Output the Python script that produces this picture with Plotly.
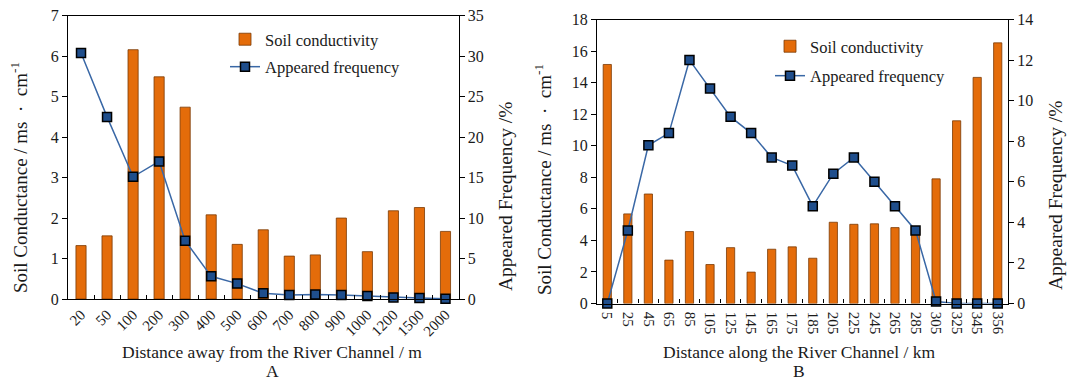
import plotly.graph_objects as go

# ---------------- data ----------------
dist_a = ["20", "50", "100", "200", "300", "400", "500", "600", "700", "800",
          "900", "1000", "1200", "1500", "2000"]
cond_a = [1.32, 1.56, 6.16, 5.49, 4.74, 2.08, 1.35, 1.71, 1.06, 1.09,
          2.00, 1.17, 2.18, 2.26, 1.67]
freq_a = [30.4, 22.5, 15.1, 17.0, 7.2, 2.8, 1.9, 0.7, 0.5, 0.55,
          0.5, 0.37, 0.2, 0.12, 0.04]

dist_b = ["5", "25", "45", "65", "85", "105", "125", "145", "165", "175",
          "185", "205", "225", "245", "265", "285", "305", "325", "345", "356"]
cond_b = [15.15, 5.68, 6.94, 2.75, 4.56, 2.47, 3.54, 1.99, 3.44, 3.59,
          2.87, 5.15, 5.02, 5.05, 4.81, 4.75, 7.90, 11.58, 14.33, 16.52]
freq_b = [0.0, 3.6, 7.8, 8.4, 12.0, 10.6, 9.2, 8.4, 7.2, 6.8,
          4.8, 6.4, 7.2, 6.0, 4.8, 3.6, 0.1, 0.0, 0.0, 0.0]

y1_ticks_a = [0, 1, 2, 3, 4, 5, 6, 7]
y2_ticks_a = [0, 5, 10, 15, 20, 25, 30, 35]
y1_ticks_b = [0, 2, 4, 6, 8, 10, 12, 14, 16, 18]
y2_ticks_b = [0, 2, 4, 6, 8, 10, 12, 14]

# ---------------- style ----------------
FONT = "Liberation Serif, Times New Roman, serif"
TXT = "#1a1a1a"
BAR = "#E46C0A"
BAR_EDGE = "#7a3a05"
LINE = "#3A68A6"
MARK = "#1F4E8C"
W, H = 1068, 380

fig = go.Figure()

fig.add_trace(go.Bar(x=dist_a, y=cond_a, name="Soil conductivity", width=0.39,
                     marker=dict(color=BAR, line=dict(color=BAR_EDGE, width=0.8)),
                     xaxis="x", yaxis="y", legend="legend", legendgroup="a1"))
fig.add_trace(go.Scatter(x=dist_a, y=freq_a, name="Appeared frequency", mode="lines+markers",
                         line=dict(color=LINE, width=1.5),
                         marker=dict(symbol="square", size=9, color=MARK,
                                     line=dict(color="black", width=1.5)),
                         cliponaxis=False,
                         xaxis="x", yaxis="y2", legend="legend", legendgroup="a2"))
fig.add_trace(go.Bar(x=dist_b, y=cond_b, name="Soil conductivity", width=0.40,
                     marker=dict(color=BAR, line=dict(color=BAR_EDGE, width=0.8)),
                     xaxis="x2", yaxis="y3", legend="legend2", legendgroup="b1"))
fig.add_trace(go.Scatter(x=dist_b, y=freq_b, name="Appeared frequency", mode="lines+markers",
                         line=dict(color=LINE, width=1.5),
                         marker=dict(symbol="square", size=9, color=MARK,
                                     line=dict(color="black", width=1.5)),
                         cliponaxis=False,
                         xaxis="x2", yaxis="y4", legend="legend2", legendgroup="b2"))

tickfont = dict(family=FONT, size=16, color=TXT)
xtickfont = dict(family=FONT, size=15, color=TXT)
axline = dict(showline=True, linecolor="black", linewidth=1.3, showgrid=False,
              zeroline=False, automargin=False)

dom_a = [68 / W, 458.5 / W]
dom_b = [597 / W, 1008 / W]
ydom_a = [(H - 299) / H, (H - 15.7) / H]
ydom_b = [(H - 303.5) / H, (H - 19.5) / H]

fig.update_layout(
    width=W, height=H,
    margin=dict(l=0, r=0, t=0, b=0),
    paper_bgcolor="white", plot_bgcolor="white",
    font=dict(family=FONT, color=TXT),
    xaxis=dict(domain=dom_a, anchor="y", type="category", mirror=True,
               range=[-0.5, len(dist_a) - 0.5], autorange=False,
               ticks="inside", tickson="boundaries", ticklen=4, tickcolor="black",
               tickangle=-45, tickfont=xtickfont, **axline),
    yaxis=dict(domain=ydom_a, anchor="x", range=[0, 7], tickvals=y1_ticks_a,
               ticks="outside", ticklen=5, tickcolor="black", tickfont=tickfont, **axline),
    yaxis2=dict(anchor="x", overlaying="y", side="right", range=[0, 35], tickvals=y2_ticks_a,
                ticks="outside", ticklen=5, tickcolor="black", tickfont=tickfont, **axline),
    xaxis2=dict(domain=dom_b, anchor="y3", type="category", mirror=True,
                range=[-0.5, len(dist_b) - 0.5], autorange=False,
                ticks="inside", tickson="boundaries", ticklen=4, tickcolor="black",
                tickangle=90, ticklabelstandoff=4, tickfont=xtickfont, **axline),
    yaxis3=dict(domain=ydom_b, anchor="x2", range=[0, 18], tickvals=y1_ticks_b,
                ticks="outside", ticklen=5, tickcolor="black", tickfont=tickfont, **axline),
    yaxis4=dict(anchor="x2", overlaying="y3", side="right", range=[0, 14], tickvals=y2_ticks_b,
                ticks="outside", ticklen=5, tickcolor="black", tickfont=tickfont, **axline),
    legend=dict(x=225 / W, y=1 - 22 / H, xanchor="left", yanchor="top",
                bgcolor="rgba(0,0,0,0)", font=dict(family=FONT, size=16.5, color=TXT),
                itemwidth=30, tracegroupgap=3, traceorder="grouped"),
    legend2=dict(x=770 / W, y=1 - 29 / H, xanchor="left", yanchor="top",
                 bgcolor="rgba(0,0,0,0)", font=dict(family=FONT, size=16.5, color=TXT),
                 itemwidth=30, tracegroupgap=5, traceorder="grouped"),
    showlegend=True,
)

def ann(text, x, y, angle=0, size=17.5):
    fig.add_annotation(text=text, x=x / W, y=1 - y / H, xref="paper", yref="paper",
                       showarrow=False, textangle=angle, xanchor="center", yanchor="middle",
                       font=dict(family=FONT, size=size, color=TXT))

ytitle = "Soil Conductance / ms  ·  cm<sup>-1</sup>"
ann(ytitle, 19, 178, -90, 19)
ann("Appeared Frequency /%", 505, 196, -90, 19.5)
ann("Distance away from the River Channel / m", 272, 352)
ann("A", 272, 371)
ann(ytitle, 543, 180, -90, 19)
ann("Appeared Frequency /%", 1055, 195, -90, 19.5)
ann("Distance along the River Channel / km", 799, 352)
ann("B", 799, 371)

fig.write_html("out.html", config={"displayModeBar": False},
               post_script="document.body.style.margin='0px';document.body.style.overflow='hidden';")
